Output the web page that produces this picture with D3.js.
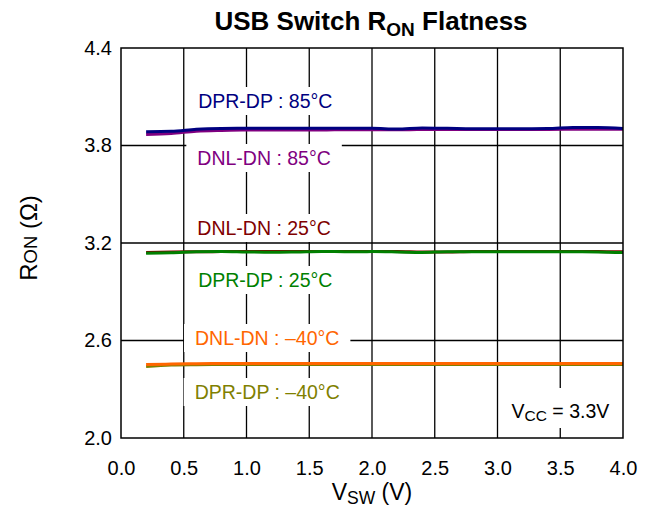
<!DOCTYPE html>
<html><head><meta charset="utf-8">
<script src="https://cdn.jsdelivr.net/npm/d3@7"></script>
<style>body{margin:0;background:#fff;} text{font-family:"Liberation Sans",Arial,sans-serif;}</style>
</head><body>
<svg id="c" width="653" height="508"></svg>
<script>
const vsw = [0.2,0.4,0.6,0.8,1.0,1.2,1.4,1.6,1.8,2.0,2.2,2.4,2.6,2.8,3.0,3.2,3.4,3.6,3.8,4.0];
const dprdp85 = [3.885,3.887,3.900,3.905,3.906,3.906,3.906,3.906,3.906,3.906,3.901,3.908,3.906,3.903,3.903,3.903,3.904,3.911,3.911,3.905];
const dnldn85 = [3.868,3.874,3.888,3.893,3.895,3.896,3.896,3.896,3.897,3.897,3.897,3.898,3.898,3.898,3.898,3.898,3.899,3.900,3.900,3.900];
const dnldn25 = [3.142,3.144,3.146,3.147,3.147,3.147,3.147,3.147,3.147,3.147,3.147,3.144,3.144,3.147,3.147,3.147,3.147,3.147,3.147,3.146];
const dprdp25 = [3.137,3.140,3.146,3.148,3.145,3.143,3.145,3.148,3.146,3.147,3.145,3.142,3.146,3.146,3.146,3.146,3.146,3.146,3.145,3.141];
const dnldn40 = [2.452,2.455,2.457,2.458,2.458,2.458,2.458,2.458,2.458,2.458,2.458,2.458,2.458,2.458,2.458,2.458,2.458,2.458,2.458,2.458];
const dprdp40 = [2.440,2.449,2.451,2.452,2.452,2.452,2.452,2.452,2.452,2.452,2.452,2.452,2.452,2.452,2.452,2.452,2.452,2.452,2.452,2.452];
const xTicks = [0.0,0.5,1.0,1.5,2.0,2.5,3.0,3.5,4.0];
const yTicks = [2.0,2.6,3.2,3.8,4.4];
const seriesNames = ["DPR-DP : 85°C","DNL-DN : 85°C","DNL-DN : 25°C","DPR-DP : 25°C","DNL-DN : –40°C","DPR-DP : –40°C"];
const seriesColors = ["#000080","#800080","#800000","#008000","#ff6600","#808000"];
const seriesData = [dprdp85,dnldn85,dnldn25,dprdp25,dnldn40,dprdp40];
const labelPos = [[1.15,108],[1.14,165],[1.14,235],[1.15,287],[1.165,345],[1.165,399]];

const svg = d3.select("#c");
const m = {l:121,t:48,w:502,h:390};
const x = d3.scaleLinear().domain([0,4]).range([m.l,m.l+m.w]);
const y = d3.scaleLinear().domain([2.0,4.4]).range([m.t+m.h,m.t]);

// gridlines
const g = svg.append("g");
g.selectAll("line.v").data(xTicks.slice(1,-1)).join("line")
  .attr("x1",d=>x(d)).attr("x2",d=>x(d)).attr("y1",m.t).attr("y2",m.t+m.h)
  .attr("stroke","#000").attr("stroke-width",1.3);
g.selectAll("line.h").data(yTicks.slice(1,-1)).join("line")
  .attr("y1",d=>y(d)).attr("y2",d=>y(d)).attr("x1",m.l).attr("x2",m.l+m.w)
  .attr("stroke","#000").attr("stroke-width",1.3);

// labels with white boxes
const lg = svg.append("g");
seriesNames.forEach((n,i)=>{
  const t = lg.append("text").attr("x",x(labelPos[i][0])).attr("y",labelPos[i][1])
    .attr("text-anchor","middle").attr("font-size",19.5).attr("fill",seriesColors[i]).text(n);
  const b = t.node().getBBox();
  lg.insert("rect","text").attr("x",b.x-11).attr("y",b.y-3).attr("width",b.width+22).attr("height",b.height+6).attr("fill","#fff");
});
// Vcc note
const vt = lg.append("text").attr("x",x(3.0)+14).attr("y",418).attr("font-size",19.5);
vt.append("tspan").text("V");
vt.append("tspan").attr("font-size",15.5).attr("dy",3).text("CC");
vt.append("tspan").attr("dy",-3).text(" = 3.3V");
const vb = vt.node().getBBox();
lg.insert("rect","text").attr("x",vb.x-6).attr("y",388).attr("width",vb.width+12).attr("height",40).attr("fill","#fff");

// lines
const line = d3.line().x((d,i)=>x(vsw[i])).y(d=>y(d)).curve(d3.curveMonotoneX);
const order = [1,0,2,3,5,4];
order.forEach(i=>{
  svg.append("path").datum(seriesData[i]).attr("d",line).attr("fill","none")
    .attr("stroke",seriesColors[i]).attr("stroke-width",3);
});

// border
svg.append("rect").attr("x",m.l).attr("y",m.t).attr("width",m.w).attr("height",m.h)
  .attr("fill","none").attr("stroke","#000").attr("stroke-width",1.5);

// axes tick labels
const xa = svg.append("g").attr("transform",`translate(0,${m.t+m.h})`)
  .call(d3.axisBottom(x).tickValues(xTicks).tickFormat(d3.format(".1f")).tickSize(0).tickPadding(23));
xa.select(".domain").remove();
xa.selectAll("text").attr("font-size",20).attr("fill","#000").attr("font-family","Liberation Sans, Arial, sans-serif");
const ya = svg.append("g").attr("transform",`translate(${m.l},0)`)
  .call(d3.axisLeft(y).tickValues(yTicks).tickFormat(d3.format(".1f")).tickSize(0).tickPadding(9));
ya.select(".domain").remove();
ya.selectAll("text").attr("font-size",20).attr("fill","#000").attr("font-family","Liberation Sans, Arial, sans-serif");

// title
const tt = svg.append("text").attr("x",371).attr("y",30).attr("text-anchor","middle")
  .attr("font-size",26).attr("font-weight","bold");
tt.append("tspan").text("USB Switch R");
tt.append("tspan").attr("font-size",19).attr("dy",6).text("ON");
tt.append("tspan").attr("dy",-6).text(" Flatness");

// x label
const xl = svg.append("text").attr("x",372).attr("y",500).attr("text-anchor","middle").attr("font-size",23);
xl.append("tspan").text("V");
xl.append("tspan").attr("font-size",17.5).attr("dy",4).text("SW");
xl.append("tspan").attr("dy",-4).text(" (V)");

// y label
const yl = svg.append("text").attr("transform","translate(37,238) rotate(-90)").attr("text-anchor","middle").attr("font-size",24);
yl.append("tspan").text("R");
yl.append("tspan").attr("font-size",18.5).text("ON");
yl.append("tspan").text(" (Ω)");
</script>
</body></html>
